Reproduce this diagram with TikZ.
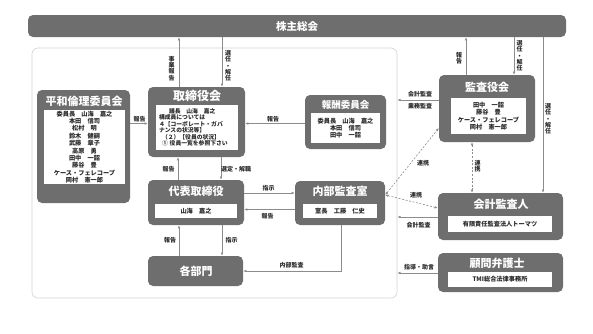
\documentclass[tikz,border=0pt]{standalone}
\usepackage{fontspec}
\setmainfont{Noto Sans CJK JP}
\usetikzlibrary{arrows.meta}
\definecolor{boxgray}{HTML}{6E6E6E}
\definecolor{lngray}{HTML}{8C8C8C}
\definecolor{frgray}{HTML}{D2D2D2}
\definecolor{txt}{HTML}{2A2A2A}
\begin{document}
\begin{tikzpicture}[x=1pt,y=-1pt,
  box/.style={fill=boxgray,rounded corners=5pt,inner sep=0pt},
  inbox/.style={fill=white,inner sep=0pt,text=txt,font=\bfseries\fontsize{6.2}{7.4}\selectfont,align=center},
  ttl/.style={text=white,font=\bfseries\fontsize{11}{13}\selectfont,inner sep=0pt},
  lbl/.style={text=txt,font=\bfseries\fontsize{6}{7}\selectfont,inner sep=0pt},
  vlbl/.style={text=txt,inner sep=0pt,align=center,font=\bfseries\fontsize{6}{6.3}\selectfont},
  conn/.style={draw=lngray,line width=0.6pt,-{Latex[length=3.2pt,width=2.6pt]}},
  link/.style={draw=lngray,line width=0.6pt,dash pattern=on 2pt off 1.6pt,{Latex[length=3.2pt,width=2.6pt]}-{Latex[length=3.2pt,width=2.6pt]}},
]
\useasboundingbox (0,0) rectangle (593,333);

% frame
\node[draw=frgray,line width=0.6pt,rounded corners=6pt,minimum width=365,minimum height=250,inner sep=0pt] (frame) at (214.5,173) {};

% shareholders meeting
\node[box,minimum width=538,minimum height=22] (kabu) at (297,26) {};
\node[ttl,font=\bfseries\fontsize{10.5}{12}\selectfont] (kabut) at (297,26) {株主総会};

% heiwa
\node[box,minimum width=93,minimum height=113] (heiwa) at (83.5,146.5) {};
\node[ttl] (heiwat) at (84,101.5) {平和倫理委員会};
\node[inbox,minimum width=81,minimum height=74] (heiwam) at (84.5,147) {委員長　山海　嘉之\\本田　信司\\松村　明\\鈴木　健嗣\\武藤　章子\\高原　勇\\田中　一韶\\藤谷　豊\\ケース・フェレコープ\\岡村　憲一郎};

% torishimariyakukai
\node[box,minimum width=97,minimum height=70] (tori) at (196.5,122) {};
\node[ttl,font=\bfseries\fontsize{12}{14}\selectfont] (torit) at (197,95.5) {取締役会};
\node[inbox,minimum width=82,minimum height=45,text width=76,align=left,font=\bfseries\fontsize{5.8}{6.5}\selectfont] (torim) at (197,127.5) {\hspace{10pt}議長　山海　嘉之\\構成員については\\４【コーポレート・ガバ\\ナンスの状況等】\\\hspace{3pt}（２）【役員の状況】\\\hspace{3pt}① 役員一覧を参照下さい};

% housyu
\node[box,minimum width=81,minimum height=54] (housyu) at (345.5,122) {};
\node[ttl,font=\bfseries\fontsize{9.5}{11}\selectfont] (housyut) at (345.5,104.5) {報酬委員会};
\node[inbox,minimum width=69,minimum height=30,font=\bfseries\fontsize{6.2}{6.8}\selectfont] (housyum) at (345.5,128) {委員長　山海　嘉之\\本田　信司\\田中　一韶};

% kansayakukai
\node[box,minimum width=96,minimum height=67] (kansa) at (487,108.5) {};
\node[ttl] (kansat) at (487,87) {監査役会};
\node[inbox,minimum width=75,minimum height=36,font=\bfseries\fontsize{6.2}{7.5}\selectfont] (kansam) at (488.5,116) {田中　一韶\\藤谷　豊\\ケース・フェレコープ\\岡村　憲一郎};

% daihyo
\node[box,minimum width=96,minimum height=45] (daihyo) at (196,202.5) {};
\node[ttl] (daihyot) at (196,191) {代表取締役};
\node[inbox,minimum width=82,minimum height=14] (daihyom) at (196,211) {山海　嘉之};

% naibu
\node[box,minimum width=90,minimum height=44] (naibu) at (340,203) {};
\node[ttl] (naibut) at (340,191) {内部監査室};
\node[inbox,minimum width=74,minimum height=14] (naibum) at (340,211) {室長　工藤　仁史};

% kakubu
\node[box,minimum width=95,minimum height=30] (kakubu) at (195.5,271) {};
\node[ttl] (kakubut) at (196,271) {各部門};

% kaikei
\node[box,minimum width=125,minimum height=47] (kaikei) at (500.5,216.5) {};
\node[ttl] (kaikeit) at (501,204) {会計監査人};
\node[inbox,minimum width=104,minimum height=16] (kaikeim) at (500,224) {有限責任監査法人トーマツ};

% komon
\node[box,minimum width=125,minimum height=39] (komon) at (500.5,272.5) {};
\node[ttl] (komont) at (497,263) {顧問弁護士};
\node[inbox,minimum width=104,minimum height=15] (komonm) at (500,279.5) {TMI総合法律事務所};

% connectors to shareholders meeting
\draw[conn] (tori.north -| 179,0) -- (kabu.south -| 179,0);
\node[vlbl] (l1) at (171.5,68.5) {事\\業\\報\\告};
\draw[conn] (kabu.south -| 222,0) -- (tori.north -| 222,0);
\node[vlbl] (l2) at (228,66) {選\\任\\・\\解\\任};
\draw[conn] (kansa.north -| 466,0) -- (kabu.south -| 466,0);
\node[vlbl] (l3) at (459,58.5) {報\\告};
\draw[conn] (kabu.south -| 514,0) -- (kansa.north -| 514,0);
\node[vlbl] (l4) at (519.5,56) {選\\任\\・\\解\\任};
\draw[conn] (kabu.south -| 543,0) -- (kaikei.north -| 543,0);
\node[vlbl] (l5) at (548,119) {選\\任\\・\\解\\任};

% committees to board
\draw[conn] (heiwa.east |- 0,123.5) -- (tori.west |- 0,123.5);
\node[lbl] (l6) at (139.5,119) {報告};
\draw[conn] (housyu.west |- 0,123.5) -- (tori.east |- 0,123.5);
\node[lbl] (l7) at (273,119) {報告};

% audit board to frame
\draw[conn] (kansa.west |- 0,100) -- (frame.east |- 0,100);
\node[lbl] (l8) at (420,94) {会計監査};
\node[lbl] (l9) at (420,106.5) {業務監査};

% board - representative director
\draw[conn] (daihyo.north -| 178,0) -- (tori.south -| 178,0);
\node[lbl] (l10) at (168.5,169) {報告};
\draw[conn] (tori.south -| 221,0) -- (daihyo.north -| 221,0);
\node[lbl] (l11) at (236,169) {選定・解職};

% representative director - internal audit
\draw[conn] (daihyo.east |- 0,193) -- (naibu.west |- 0,193);
\node[lbl] (l12) at (268.5,188) {指示};
\draw[conn] (naibu.west |- 0,209.5) -- (daihyo.east |- 0,209.5);
\node[lbl] (l13) at (267.5,216) {報告};

% representative director - departments
\draw[conn] (kakubu.north -| 179,0) -- (daihyo.south -| 179,0);
\node[lbl] (l14) at (170,240.5) {報告};
\draw[conn] (daihyo.south -| 222,0) -- (kakubu.north -| 222,0);
\node[lbl] (l15) at (231.5,240.5) {指示};

% internal audit to departments
\draw[conn] (naibu.south -| 341,0) |- (kakubu.east);
\node[lbl] (l16) at (291.5,265) {内部監査};

% cooperation links
\draw[link] (naibu.east |- 0,195) -- (kaikei.west |- 0,208);
\node[lbl] (l17) at (416,195) {連携};
\draw[link] (naibu.east |- 0,195) -- (kansa.west |- 0,128);
\node[lbl] (l18) at (423,163) {連携};
\draw[link] (kansa.south -| 472,0) -- (kaikei.north -| 472,0);
\node[vlbl] (l19) at (477.5,166) {連\\携};

% external to frame
\draw[conn] (kaikei.west |- 0,217) -- (frame.east |- 0,217);
\node[lbl] (l20) at (418.5,225) {会計監査};
\draw[conn] (komon.west |- 0,273) -- (frame.east |- 0,273);
\node[lbl] (l21) at (419,267.5) {指導・助言};
\end{tikzpicture}
\end{document}
